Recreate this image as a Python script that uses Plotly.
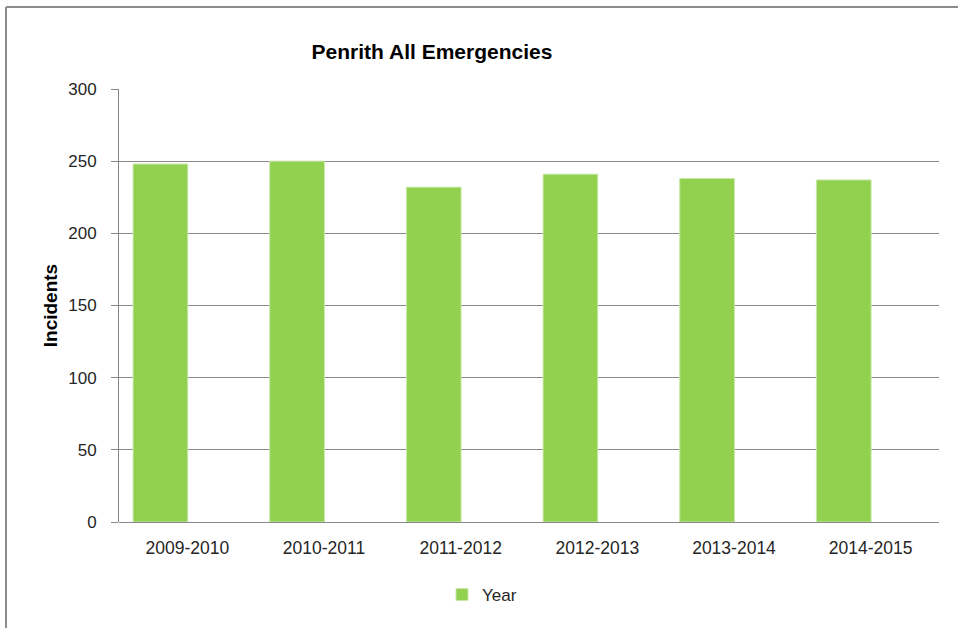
import plotly.graph_objects as go

categories = ["2009-2010", "2010-2011", "2011-2012", "2012-2013", "2013-2014", "2014-2015"]
incidents = [248, 250, 232, 241, 238, 237]
series_name = "Year"
y_ticks = [0, 50, 100, 150, 200, 250, 300]

W, H = 958, 628
L, R, T, B = 119, 19, 89, 106
pw, ph = W - L - R, H - T - B

FONT = "Liberation Sans, Arial, sans-serif"
TXT = "#262626"
GRID = "#888888"

fig = go.Figure()
fig.add_trace(go.Bar(
    x=categories, y=incidents, name=series_name,
    marker=dict(color="#92D050", line=dict(color="#C8E8A8", width=1)),
    width=0.40, offset=-0.397,
))

def px_x(x):
    return (x - L) / pw

def px_y(y):
    return (H - B - y) / ph

fig.update_layout(
    width=W, height=H,
    margin=dict(l=L, r=R, t=T, b=B, autoexpand=False),
    paper_bgcolor="white", plot_bgcolor="white",
    font=dict(family=FONT, size=17, color=TXT),
    title=dict(text="<b>Penrith All Emergencies</b>", x=432 / W, xanchor="center",
               xref="container", y=1 - 52 / H, yanchor="middle", yref="container",
               font=dict(family=FONT, size=21, color="#000000")),
    showlegend=True,
    legend=dict(orientation="h", x=px_x(482), xanchor="center", y=px_y(595), yanchor="middle",
                font=dict(family=FONT, size=17, color=TXT), itemwidth=30),
    xaxis=dict(showgrid=False, showline=False, ticks="", tickfont=dict(size=17.5, color=TXT),
               ticklabelstandoff=13, zeroline=False),
    yaxis=dict(range=[0, 300], tickvals=y_ticks, showgrid=True, gridcolor=GRID, gridwidth=1,
               showline=True, linecolor=GRID, linewidth=1, ticks="outside", ticklen=7,
               tickcolor=GRID, tickfont=dict(size=17, color=TXT), ticklabelstandoff=11,
               zeroline=True, zerolinecolor=GRID, zerolinewidth=1,
               title=dict(text="<b>Incidents</b>", standoff=5,
                          font=dict(family=FONT, size=19, color="#000000"))),
)

# chart-area border (top and left edges visible in reference)
fig.add_shape(type="line", xref="paper", yref="paper", x0=px_x(6), x1=px_x(W + 2),
              y0=px_y(7), y1=px_y(7), line=dict(color="#8C8C8C", width=2))
fig.add_shape(type="line", xref="paper", yref="paper", x0=px_x(6), x1=px_x(6),
              y0=px_y(7), y1=px_y(H + 2), line=dict(color="#8C8C8C", width=2))

fig.write_html("out.html", config={"displayModeBar": False},
               post_script="document.body.style.margin='0';document.body.style.overflow='hidden';")
